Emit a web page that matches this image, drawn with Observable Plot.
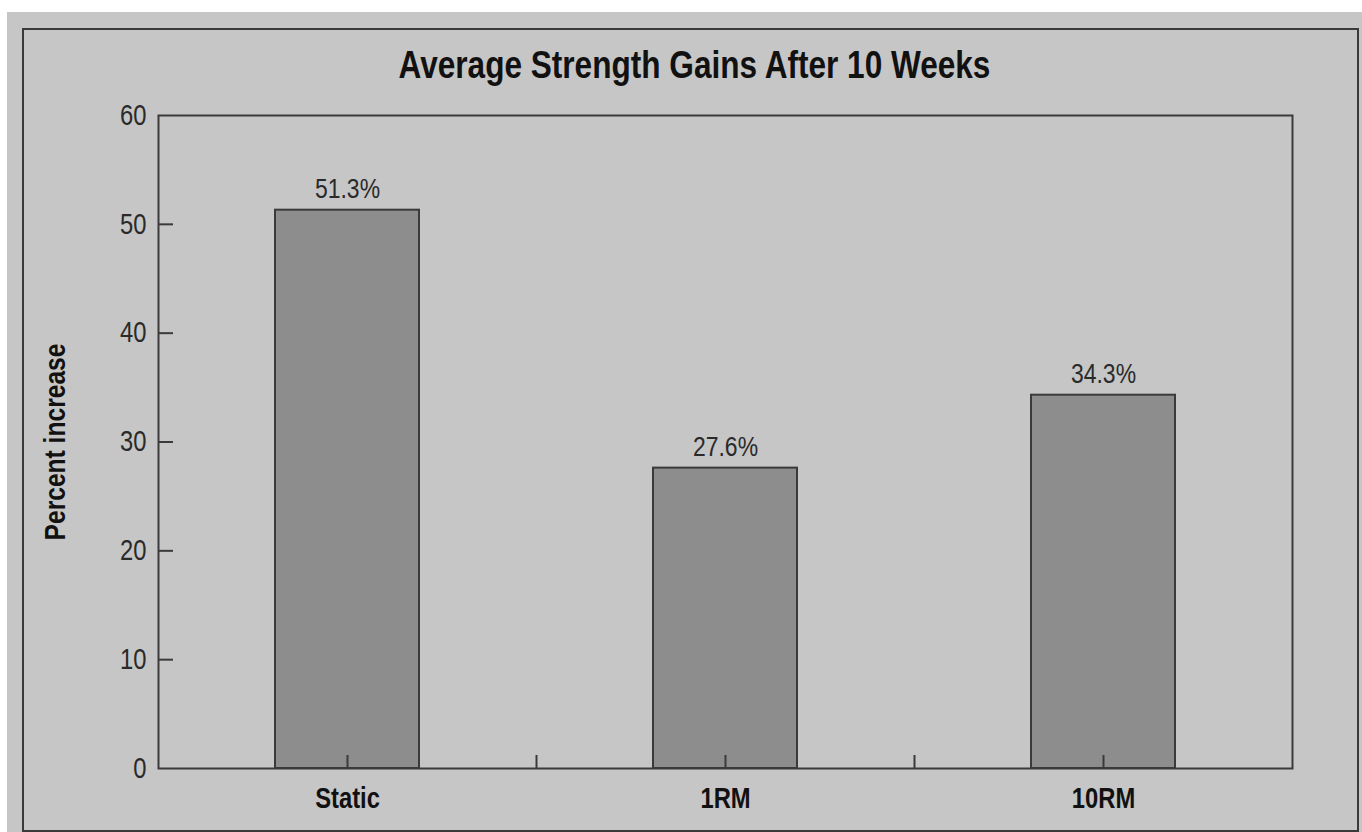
<!DOCTYPE html>
<html>
<head>
<meta charset="utf-8">
<script src="https://cdn.jsdelivr.net/npm/d3@7"></script>
<script src="https://cdn.jsdelivr.net/npm/@observablehq/plot@0.6"></script>
<style>
  html, body { margin: 0; padding: 0; background: #ffffff; }
  body { width: 1362px; height: 832px; position: relative; overflow: hidden;
         font-family: "Liberation Sans", Arial, sans-serif; }
  #sheet { position: absolute; left: 7px; top: 12px; right: 0; bottom: 0; background: #c6c6c6; }
  #box { position: absolute; left: 22px; top: 28px; width: 1333px; height: 800px;
         border: 2px solid #3a3a3a; }
  #title { position: absolute; left: 0; top: 46px; width: 1389px; text-align: center;
           font-size: 38.5px; line-height: 38px; font-weight: bold; color: #111;
           transform: scaleX(0.82); transform-origin: 694.5px 0; }
  #chart { position: absolute; left: 0; top: 90px; }
</style>
</head>
<body>
<div id="sheet"></div>
<div id="box"></div>
<div id="title">Average Strength Gains After 10 Weeks</div>
<div id="chart"></div>
<script>
// Training groups and their average percent strength gain after 10 weeks
const groups = ["Static", "1RM", "10RM"];
const gains = [51.3, 27.6, 34.3];
const yTicks = [0, 10, 20, 30, 40, 50, 60];

const data = groups.map((g, i) => ({group: g, value: gains[i]}));

const width = 1362, height = 742;
const margin = {top: 25, right: 70, bottom: 64, left: 158};
const frameW = width - margin.left - margin.right;
const frameH = height - margin.top - margin.bottom;
const step = frameW / groups.length;

const ink = "#3a3a3a";
const font = "'Liberation Sans', Arial, sans-serif";

const chart = Plot.plot({
  width, height,
  marginTop: margin.top, marginRight: margin.right,
  marginBottom: margin.bottom, marginLeft: margin.left,
  style: {background: "transparent", fontFamily: font, color: "#2a2a2a"},
  x: {domain: groups, paddingInner: 0.62, paddingOuter: 0.31},
  y: {domain: [0, 60]},
  marks: [
    Plot.barY(data, {x: "group", y: "value", fill: "#8d8d8d", stroke: ink, strokeWidth: 2}),
    // inward tick marks on the y axis
    Plot.ruleY(yTicks.slice(1, -1), {y: d => d, stroke: ink, strokeWidth: 2, insetRight: frameW - 15}),
    // inward tick marks at each category and between categories
    Plot.ruleX(groups, {x: d => d, stroke: ink, strokeWidth: 2, insetTop: frameH - 13}),
    Plot.ruleX(groups.slice(1), {x: d => d, dx: -step / 2, stroke: ink, strokeWidth: 2, insetTop: frameH - 13}),
    Plot.frame({stroke: ink, strokeWidth: 2}),
    Plot.axisY({ticks: yTicks, tickSize: 0, tickPadding: 12, fontSize: 29, label: null}),
    Plot.axisX({tickSize: 0, tickPadding: 19, fontSize: 29, fontWeight: "bold", fill: "#111", label: null}),
    Plot.text(["Percent increase"], {frameAnchor: "left", textAnchor: "middle", dx: -103, rotate: -90,
      fontSize: 30, fontWeight: "bold", fill: "#111"}),
    Plot.text(data, {x: "group", y: "value", text: d => d.value.toFixed(1) + "%",
      dy: -21, fontSize: 28, fill: "#2a2a2a"})
  ]
});

// condensed lettering: squeeze each label along its own reading direction
d3.select(chart).selectAll("text").attr("transform", function() {
  return (this.getAttribute("transform") || "") + " scale(0.82,1)";
});

document.getElementById("chart").appendChild(chart);
</script>
</body>
</html>
